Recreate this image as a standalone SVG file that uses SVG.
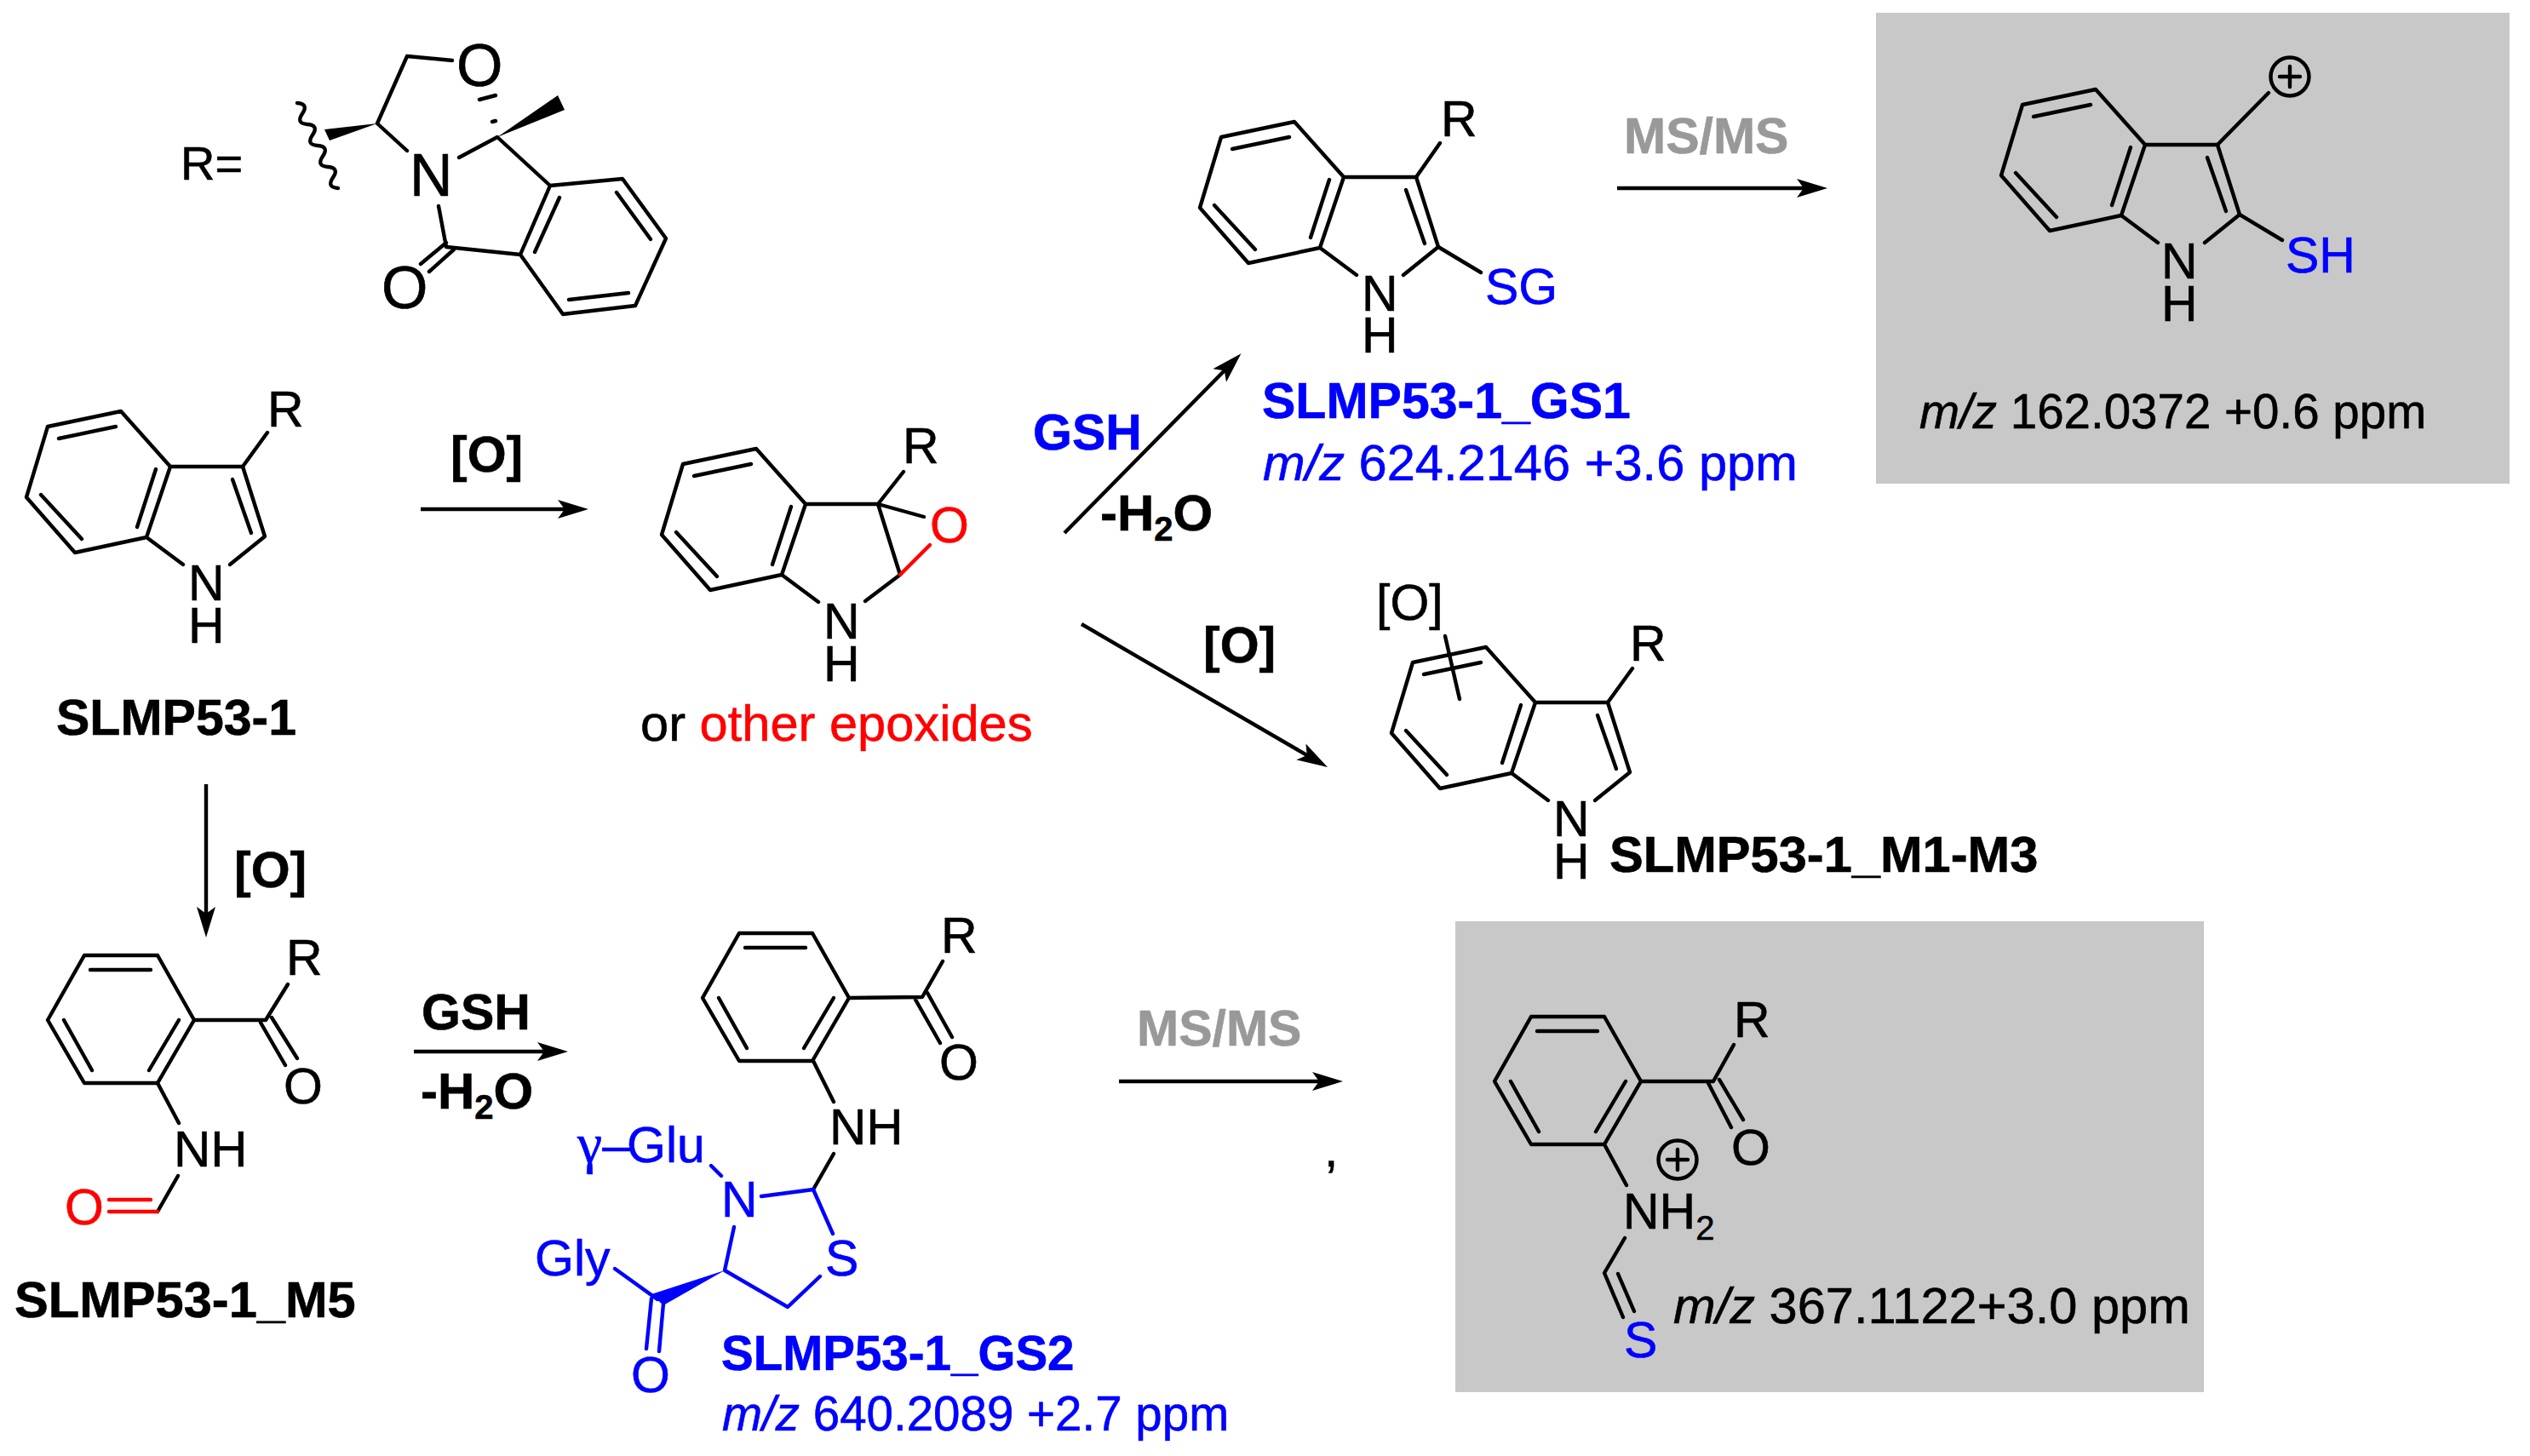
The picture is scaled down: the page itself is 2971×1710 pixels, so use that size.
<svg xmlns="http://www.w3.org/2000/svg" width="2971" height="1710" viewBox="0 0 2971 1710">
<style>
text{font-family:"Liberation Sans",Arial,sans-serif;font-size:59px;fill:#000;stroke:#000;stroke-width:.6}
.bd{font-weight:bold}
.blue{fill:#00f;stroke:#00f}
.red{fill:#f00;stroke:#f00}
.gray{fill:#999;stroke:#999}
.i{font-style:italic}
.sub{font-size:40px}
.s60{font-size:60px}
.s597{font-size:59.6px}
.s56{font-size:56.5px}
.s70{font-size:70px}
.bond{fill:none;stroke:#000;stroke-width:4.4;stroke-linecap:round;stroke-linejoin:round}
.bblue{stroke:#00f}
.bred{stroke:#f00}
.arrow{fill:none;stroke:#000;stroke-width:4.4;marker-end:url(#head)}
.box{fill:#c8c8c8}
.wedge{fill:#000}
</style>
<defs>
<marker id="head" markerUnits="userSpaceOnUse" markerWidth="40" markerHeight="24" viewBox="0 -12 40 24" refX="14" refY="0" orient="auto"><path d="M0,-11 L36,0 L0,11 L8,0Z" fill="#000"/></marker>
<path id="benzo" class="bond" d="M56,501 L142,483 L200,548 L172,631 L88,649 L31,584Z M69,515 L136,501 M48,581 L96,633 M183,551 L161,619 M200,548 L285,548 M172,631 L215,663"/>
<path id="pyr" class="bond" d="M285,548 L311,630 L270,663 M273,563 L295,626"/>
<path id="phenyl" class="bond" d="M99,1122 L185,1122 L228,1198 L185,1272 L99,1272 L56,1198Z M106,1139 L177,1139 M75,1198 L108,1257 M210,1198 L175,1257"/>
</defs>
<rect id="box-fragment-1" class="box" x="2203" y="15" width="744" height="553"/>
<rect id="box-fragment-2" class="box" x="1709" y="1082" width="879" height="553"/>
<g id="connectors">
<line class="arrow" x1="494" y1="598" x2="669" y2="598"/>
<line class="arrow" x1="1250" y1="626" x2="1442" y2="431"/>
<line class="arrow" x1="1270" y1="733" x2="1540" y2="890"/>
<line class="arrow" x1="1899" y1="221" x2="2124" y2="221"/>
<line class="arrow" x1="242" y1="921" x2="242" y2="1079"/>
<line class="arrow" x1="486" y1="1235" x2="645" y2="1235"/>
<line class="arrow" x1="1314" y1="1270" x2="1555" y2="1270"/>
</g>
<g id="r-group">
<text x="212" y="211" style="font-size:56px">R=</text>
<path class="bond" d="M349,121 q13.8,1 6,12.5 t6,12.5 t6,12.5 t6,12.5 t6,12.5 t6,12.5 t6,12.5 t6,12.5" stroke-width="3.5"/>
<polygon class="wedge" points="443,145 381,152 387,165"/>
<polygon class="wedge" points="584,161 655,112 663,129"/>
<path class="bond" d="M443,145 L478,66 L531,71 M443,145 L478,177 M539,185 L584,161 L646,218 M646,218 L731,210 L782,280 L746,359 L661,369 L611,299Z M657,232 L628,296 M724,226 L764,281 M668,352 L738,344 M611,299 L524,290 L515,242 M494,310 L524,285 M504,319 L533,293 M563,117 L582,112 M578,143 L582,142"/>
<text class="s70" x="536" y="101">O</text>
<text class="s70" x="481" y="230">N</text>
<text class="s70" x="448" y="362">O</text>
</g>
<g id="slmp53-1">
<use href="#benzo"/><use href="#pyr"/>
<path class="bond" d="M285,548 L314,508"/>
<text x="314" y="501">R</text>
<text x="221" y="705">N<tspan x="221" dy="50">H</tspan></text>
<text class="bd" x="66" y="863">SLMP53-1</text>
</g>
<text id="label-o1" class="bd" x="529" y="554">[O]</text>
<g id="epoxide">
<use href="#benzo" transform="translate(746,44)"/>
<path class="bond" d="M1031,592 L1057,675 L1016,706 M1031,592 L1061,554 M1031,592 L1085,607"/>
<path class="bond bred" d="M1057,675 L1092,640"/>
<text x="1060" y="544">R</text>
<text class="red" x="1092" y="637">O</text>
<text x="967" y="750">N<tspan x="967" dy="50">H</tspan></text>
<text class="s597" x="752" y="870">or <tspan class="red">other epoxides</tspan></text>
</g>
<text id="label-gsh1" class="bd blue" x="1213" y="528">GSH</text>
<text id="label-h2o1" class="bd s60" x="1292" y="623">-H<tspan class="sub" dy="12">2</tspan><tspan dy="-12">O</tspan></text>
<g id="gs1">
<g transform="translate(1378,-340)"><use href="#benzo"/><use href="#pyr"/></g>
<path class="bond" d="M1663,208 L1691,168 M1689,290 L1739,320"/>
<text x="1692" y="160">R</text>
<text class="blue" x="1744" y="357">SG</text>
<text x="1599" y="365">N<tspan x="1599" dy="49">H</tspan></text>
<text class="bd blue" x="1482" y="491">SLMP53-1_GS1</text>
<text class="blue s597" x="1483" y="564"><tspan class="i">m/z</tspan> 624.2146 +3.6 ppm</text>
</g>
<text id="label-msms1" class="bd gray" x="1907" y="180">MS/MS</text>
<g id="fragment-1">
<g transform="translate(2319,-378)"><use href="#benzo"/><use href="#pyr"/></g>
<path class="bond" d="M2604,170 L2664,109 M2630,252 L2680,282"/>
<circle class="bond" cx="2689" cy="90" r="22.5"/>
<path class="bond" d="M2677,90 H2701 M2689,78 V102"/>
<text class="blue" x="2684" y="320">SH</text>
<text x="2538" y="327">N<tspan x="2538" dy="50">H</tspan></text>
<text class="s56" x="2254" y="503"><tspan class="i">m/z</tspan> 162.0372 +0.6 ppm</text>
</g>
<text id="label-o2" class="bd" x="1413" y="778">[O]</text>
<g id="m1-m3">
<g transform="translate(1603,277)"><use href="#benzo"/><use href="#pyr"/></g>
<path class="bond" d="M1888,825 L1917,785 M1697,747 L1714,821"/>
<text x="1914" y="776">R</text>
<text x="1616" y="728">[O]</text>
<text x="1824" y="982">N<tspan x="1824" dy="50">H</tspan></text>
<text class="bd s597" x="1890" y="1024">SLMP53-1_M1-M3</text>
</g>
<text id="label-o3" class="bd" x="275" y="1042">[O]</text>
<g id="m5">
<use href="#phenyl"/>
<path class="bond" d="M228,1198 L312,1198 L338,1156 M306,1201 L335,1251 M319,1195 L349,1243 M185,1272 L210,1319 M209,1381 L185,1423"/>
<path class="bond bred" d="M185,1423 H128 M177,1409 H128"/>
<text x="336" y="1145">R</text>
<text x="333" y="1296">O</text>
<text class="s60" x="204" y="1370">NH</text>
<text class="red" x="76" y="1438">O</text>
<text class="bd s597" x="17" y="1547">SLMP53-1_M5</text>
</g>
<text id="label-gsh2" class="bd" x="495" y="1209">GSH</text>
<text id="label-h2o2" class="bd s60" x="494" y="1302">-H<tspan class="sub" dy="12">2</tspan><tspan dy="-12">O</tspan></text>
<g id="gs2">
<use href="#phenyl" transform="translate(769,-26)"/>
<path class="bond" d="M997,1172 L1083,1171 L1107,1129 M1075,1174 L1104,1225 M1089,1166 L1118,1218 M955,1246 L979,1294"/>
<path class="bond" d="M979,1355 L955,1397"/>
<text x="1105" y="1119">R</text>
<text x="1103" y="1268">O</text>
<text class="s60" x="974" y="1344">NH</text>
<path class="bond bblue" d="M835,1369 L847,1381 M955,1397 L894,1405 M955,1397 L978,1449 M862,1441 L851,1492 L925,1535 L963,1499 M722,1490 L772,1526 M765,1525 L759,1584 M779,1531 L774,1587"/>
<polygon points="851,1492 765,1520 779,1533" fill="#00f"/>
<text class="blue" x="678" y="1365"><tspan style="font-family:'Liberation Serif',serif;font-size:66px">γ</tspan>–<tspan x="736">Glu</tspan></text>
<text class="blue" x="847" y="1429">N</text>
<text class="blue" x="969" y="1498">S</text>
<text class="blue" x="628" y="1498">Gly</text>
<text class="blue" x="741" y="1635">O</text>
<text class="bd blue s56" x="847" y="1609">SLMP53-1_GS2</text>
<text class="blue s56" x="848" y="1680"><tspan class="i">m/z</tspan> 640.2089 +2.7 ppm</text>
</g>
<text id="label-msms2" class="bd gray" x="1335" y="1228">MS/MS</text>
<text id="comma" x="1555" y="1370">,</text>
<g id="fragment-2">
<use href="#phenyl" transform="translate(1699,72)"/>
<path class="bond" d="M1927,1270 L2012,1270 L2036,1227 M2006,1272 L2033,1324 M2019,1268 L2047,1315 M1884,1344 L1910,1392 M1908,1454 L1884,1495 L1906,1547 M1900,1496 L1919,1540"/>
<text x="2036" y="1218">R</text>
<text x="2033" y="1368">O</text>
<circle class="bond" cx="1970" cy="1362" r="22.5"/>
<path class="bond" d="M1958,1362 H1982 M1970,1350 V1374"/>
<text x="1906" y="1443">NH<tspan class="sub" dy="13">2</tspan></text>
<text class="blue" x="1907" y="1594">S</text>
<text class="s597" x="1965" y="1554"><tspan class="i">m/z</tspan> 367.1122+3.0 ppm</text>
</g>
</svg>
